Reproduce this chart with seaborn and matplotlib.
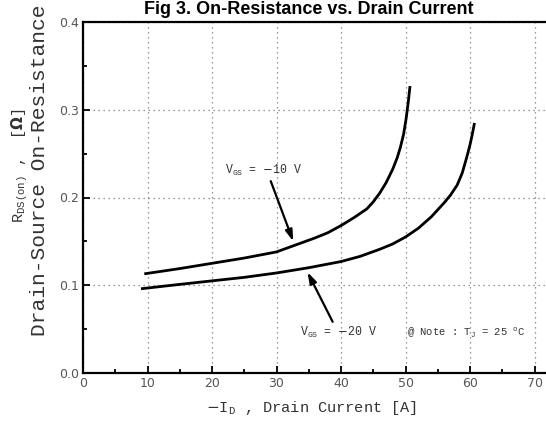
import matplotlib
matplotlib.use("Agg")
import matplotlib.pyplot as plt
from matplotlib.ticker import MultipleLocator
import seaborn as sns
import pandas as pd

# Data
id_10v = [9.5, 15, 20, 25, 30, 33, 36, 38, 40, 42, 44, 45, 46, 47, 48, 48.7, 49.2, 49.7, 50.1, 50.4, 50.7]
rds_10v = [0.113, 0.119, 0.125, 0.131, 0.138, 0.146, 0.154, 0.160, 0.168, 0.177, 0.187, 0.195, 0.205,
           0.217, 0.232, 0.245, 0.257, 0.272, 0.290, 0.307, 0.327]
id_20v = [9.0, 15, 20, 25, 30, 35, 40, 43, 46, 48, 50, 52, 54, 55, 56, 57, 58, 58.8, 59.5, 60, 60.3, 60.7]
rds_20v = [0.096, 0.101, 0.105, 0.109, 0.114, 0.120, 0.127, 0.133, 0.141, 0.147, 0.155, 0.165, 0.178,
           0.186, 0.194, 0.203, 0.214, 0.228, 0.246, 0.260, 0.270, 0.285]
series_names = ["-10 V", "-20 V"]
x_ticks = [0, 10, 20, 30, 40, 50, 60, 70]
y_ticks = [0.0, 0.1, 0.2, 0.3, 0.4]

df = pd.concat([
    pd.DataFrame({"id": id_10v, "rds": rds_10v, "vgs": series_names[0]}),
    pd.DataFrame({"id": id_20v, "rds": rds_20v, "vgs": series_names[1]}),
])

sns.set_theme(style="white")
plt.rcParams["font.family"] = ["DejaVu Sans"]

W, H = 546, 426
fig = plt.figure(figsize=(W / 100, H / 100), dpi=100)
ax = fig.add_axes([83 / W, (H - 373) / H, (W - 83) / W, (373 - 22) / H])

sns.lineplot(data=df, x="id", y="rds", hue="vgs", palette=["black", "black"],
             sort=False, estimator=None, legend=False, linewidth=2.0, ax=ax)
for ln in ax.lines:
    ln.set_solid_joinstyle("round")
    ln.set_solid_capstyle("butt")

ax.set_xlim(0, (W - 83) / 6.45)
ax.set_ylim(0, 0.4)
ax.set_xticks(x_ticks)
ax.set_yticks(y_ticks)
ax.set_xticklabels([str(t) for t in x_ticks])
ax.set_yticklabels([f"{t:.1f}" for t in y_ticks])
ax.xaxis.set_minor_locator(MultipleLocator(5))
ax.yaxis.set_minor_locator(MultipleLocator(0.05))
ax.tick_params(which="major", direction="in", length=5, width=1.3, colors="black",
               labelcolor="#555555", labelsize=9, bottom=True, left=True, top=False, right=False, pad=3)
ax.tick_params(which="minor", direction="in", length=3, width=1.3, colors="black",
               bottom=True, left=True, top=False, right=False)
ax.grid(True, which="major", color="#777777", linestyle=(0, (1, 3)), linewidth=0.9)
for s in ["left", "bottom", "top"]:
    ax.spines[s].set_color("black")
    ax.spines[s].set_linewidth(1.6)
ax.spines["right"].set_visible(False)
ax.set_xlabel("")
ax.set_ylabel("")

mono = "Liberation Mono"
# Axis labels
fig.text(311 / W, 1 - 408 / H, r"$-$I$_\mathregular{D}$ , Drain Current [A]", family=mono,
         fontsize=11, ha="center", va="center", color="#333333")
fig.text(20 / W, 1 - 165 / H, r"R$_\mathregular{DS(on)}$ ,  [$\mathbf{\Omega}$]", family=mono,
         fontsize=11, rotation=90, ha="center", va="center", color="#333333")
fig.text(40 / W, 1 - 170 / H, "Drain-Source On-Resistance", family=mono,
         fontsize=15.3, rotation=90, ha="center", va="center", color="#333333")

# Title
fig.text(309 / W, 1 - 14 / H, "Fig 3. On-Resistance vs. Drain Current", family="Liberation Sans",
         fontweight="bold", fontsize=13, ha="center", va="baseline", color="black")

# Annotations
ax.annotate(r"V$_\mathregular{GS}$ = $-$10 V", xy=(32.6, 0.150), xytext=(22.0, 0.231),
            family=mono, fontsize=8.3, color="#333333", va="center", ha="left",
            arrowprops=dict(arrowstyle="-|>,head_length=0.8,head_width=0.25", color="black", lw=1.6,
                            shrinkA=0, shrinkB=0, relpos=(0.58, 0.0)))
ax.annotate(r"V$_\mathregular{GS}$ = $-$20 V", xy=(34.8, 0.115), xytext=(33.6, 0.046),
            family=mono, fontsize=8.3, color="#333333", va="center", ha="left",
            arrowprops=dict(arrowstyle="-|>,head_length=0.8,head_width=0.25", color="black", lw=1.6,
                            shrinkA=0, shrinkB=0, relpos=(0.45, 1.0)))
ax.text(50.2, 0.046, r"@ Note : T$_\mathregular{J}$ = 25 $^\mathregular{o}$C", family=mono,
        fontsize=7.6, color="#333333", va="center", ha="left")

fig.savefig("out.png", dpi=100)
